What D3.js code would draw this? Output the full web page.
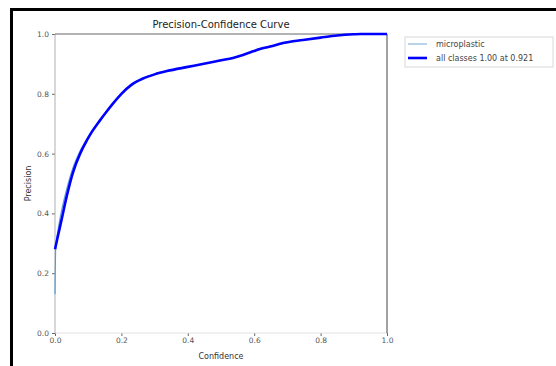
<!DOCTYPE html>
<html>
<head>
<meta charset="utf-8">
<script src="https://cdn.jsdelivr.net/npm/d3@7"></script>
<style>
  body { margin: 0; background: #fff; }
  svg { display: block; font-family: "DejaVu Sans", sans-serif; }
</style>
</head>
<body>
<div id="chart"></div>
<script>
// 数据
const confidence = [0, 0.01, 0.02, 0.035, 0.055, 0.075, 0.09, 0.105, 0.136, 0.155, 0.175, 0.2, 0.23, 0.265, 0.3, 0.337, 0.4, 0.437, 0.5, 0.536, 0.566, 0.597, 0.617, 0.648, 0.687, 0.747, 0.8, 0.85, 0.9, 0.921, 1.0];
const allClasses = [0.28, 0.33, 0.38, 0.456, 0.54, 0.598, 0.632, 0.662, 0.712, 0.74, 0.768, 0.8, 0.83, 0.851, 0.865, 0.876, 0.89, 0.898, 0.912, 0.92, 0.93, 0.942, 0.95, 0.958, 0.97, 0.98, 0.988, 0.995, 0.999, 1.0, 1.0];
const mpConfidence = [0, 0.002, 0.01, 0.02, 0.035, 0.055, 0.075, 0.09, 0.105, 0.136, 0.175, 0.2, 0.265, 0.337, 0.437, 0.536, 0.597, 0.648, 0.747, 0.85, 0.921, 1.0];
const microplastic = [0.13, 0.28, 0.35, 0.41, 0.48, 0.555, 0.608, 0.638, 0.665, 0.712, 0.768, 0.8, 0.851, 0.876, 0.898, 0.92, 0.942, 0.958, 0.98, 0.995, 1.0, 1.0];
const xTicks = [0, 0.2, 0.4, 0.6, 0.8, 1.0];
const yTicks = [0, 0.2, 0.4, 0.6, 0.8, 1.0];
const legendLabels = ['microplastic', 'all classes 1.00 at 0.921'];

const width = 556, height = 366;
const margin = { top: 34, right: 169, bottom: 33, left: 55 };
const innerWidth = width - margin.left - margin.right;
const innerHeight = height - margin.top - margin.bottom;

const svg = d3.select('#chart').append('svg')
  .attr('width', width)
  .attr('height', height);

// 外框（截图边框）
svg.append('path')
  .attr('d', `M11.5,${height} V9.5 H${width}`)
  .attr('fill', 'none')
  .attr('stroke', '#000')
  .attr('stroke-width', 3);

const g = svg.append('g')
  .attr('transform', `translate(${margin.left},${margin.top})`);

const x = d3.scaleLinear().domain([0, 1]).range([0, innerWidth]);
const y = d3.scaleLinear().domain([0, 1]).range([innerHeight, 0]);

// 坐标轴
const xAxis = g.append('g')
  .attr('transform', `translate(0,${innerHeight})`)
  .call(d3.axisBottom(x).tickValues(xTicks).tickFormat(d3.format('.1f')).tickSize(3).tickPadding(2));
const yAxis = g.append('g')
  .call(d3.axisLeft(y).tickValues(yTicks).tickFormat(d3.format('.1f')).tickSize(3).tickPadding(3));

[xAxis, yAxis].forEach(a => {
  a.select('.domain').remove();
  a.selectAll('line').attr('stroke', '#666');
  a.selectAll('text').attr('fill', '#555').style('font-size', '7.5px').style('font-family', '"DejaVu Sans", sans-serif');
});

// 边框
g.append('line').attr('x1', 0).attr('x2', innerWidth).attr('y1', innerHeight).attr('y2', innerHeight).attr('stroke', '#e2e2e2');
g.append('line').attr('x1', 0).attr('x2', 0).attr('y1', 0).attr('y2', innerHeight).attr('stroke', '#b0b0b0');
g.append('line').attr('x1', 0).attr('x2', innerWidth).attr('y1', 0).attr('y2', 0).attr('stroke', '#666');
g.append('line').attr('x1', innerWidth).attr('x2', innerWidth).attr('y1', 0).attr('y2', innerHeight).attr('stroke', '#444');

// 曲线
const line = d3.line()
  .x(d => x(d[0]))
  .y(d => y(d[1]))
  .curve(d3.curveMonotoneX);

g.append('path')
  .datum(d3.zip(mpConfidence, microplastic))
  .attr('d', line)
  .attr('fill', 'none')
  .attr('stroke', '#5b9bd0')
  .attr('stroke-width', 1.2);

g.append('path')
  .datum(d3.zip(confidence, allClasses))
  .attr('d', line)
  .attr('fill', 'none')
  .attr('stroke', '#0000ff')
  .attr('stroke-width', 2.6);

// 标题与轴标签
svg.append('text')
  .attr('x', margin.left + innerWidth / 2)
  .attr('y', 28)
  .attr('text-anchor', 'middle')
  .attr('fill', '#222')
  .style('font-size', '10px')
  .text('Precision-Confidence Curve');

svg.append('text')
  .attr('x', margin.left + innerWidth / 2)
  .attr('y', 359)
  .attr('text-anchor', 'middle')
  .attr('fill', '#333')
  .style('font-size', '8px')
  .text('Confidence');

svg.append('text')
  .attr('transform', `translate(31,${margin.top + innerHeight / 2}) rotate(-90)`)
  .attr('text-anchor', 'middle')
  .attr('fill', '#333')
  .style('font-size', '8px')
  .text('Precision');

// 图例
const legend = svg.append('g').attr('transform', 'translate(405,37)');
legend.append('rect')
  .attr('width', 148).attr('height', 30)
  .attr('fill', '#fff').attr('stroke', '#d8d8d8');

const legendStyles = [
  { color: '#8ab8dc', w: 1.2 },
  { color: '#0000ff', w: 2.6 }
];
legendLabels.forEach((label, i) => {
  const ly = 7 + i * 14;
  legend.append('line')
    .attr('x1', 3).attr('x2', 22).attr('y1', ly).attr('y2', ly)
    .attr('stroke', legendStyles[i].color).attr('stroke-width', legendStyles[i].w);
  legend.append('text')
    .attr('x', 31).attr('y', ly + 3)
    .attr('fill', '#444')
    .style('font-size', '8px')
    .text(label);
});
</script>
</body>
</html>
